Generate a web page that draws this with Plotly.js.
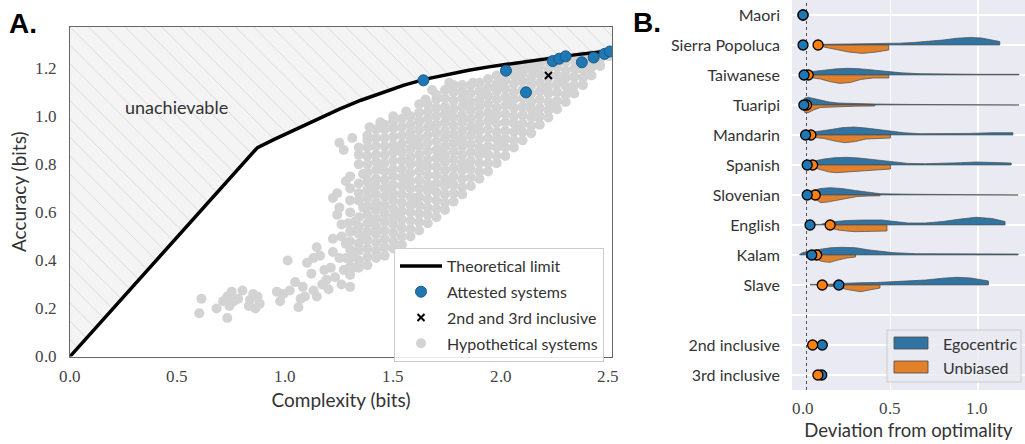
<!DOCTYPE html>
<html><head><meta charset="utf-8">
<script src="https://cdn.plot.ly/plotly-3.0.1.min.js"></script>
<style>html,body{margin:0;padding:0;background:#fff}#chart{width:1025px;height:444px}</style>
</head><body><div id="chart"></div><script>
// ---------- Panel A data ----------
const limitX = [0, 0.87, 0.95, 1.05, 1.15, 1.25, 1.35, 1.45, 1.55, 1.65, 1.75, 1.85, 1.95, 2.05, 2.15, 2.25, 2.35, 2.45, 2.515];
const limitY = [0, 0.87, 0.905, 0.948, 0.99, 1.03, 1.067, 1.10, 1.13, 1.155, 1.175, 1.192, 1.207, 1.22, 1.233, 1.245, 1.257, 1.267, 1.273];
const attestedX = [1.64, 2.023, 2.116, 2.24, 2.27, 2.30, 2.375, 2.43, 2.48, 2.505];
const attestedY = [1.15, 1.19, 1.10, 1.23, 1.24, 1.25, 1.225, 1.245, 1.26, 1.27];
const inclusiveX = [2.22];
const inclusiveY = [1.17];
const complexityTicks = [0, 0.5, 1.0, 1.5, 2.0, 2.5];
const accuracyTicks = [0, 0.2, 0.4, 0.6, 0.8, 1.0, 1.2];
const hypothetical = [
 [0.60,0.18],[0.61,0.24],[0.68,0.20],[0.71,0.23],[0.73,0.16],[0.73,0.25],[0.74,0.21],[0.75,0.27],[0.76,0.23],[0.78,0.24],
 [0.80,0.275],[0.83,0.21],[0.835,0.235],[0.85,0.26],[0.86,0.20],[0.87,0.25],[0.88,0.22],[0.96,0.27],[0.975,0.23],[0.99,0.26],
 [1.01,0.40],[1.02,0.275],[1.045,0.31],[1.06,0.205],[1.07,0.24],[1.08,0.29],[1.09,0.25],[1.10,0.39],[1.12,0.345],[1.13,0.275],
 [1.13,0.41],[1.145,0.25],[1.145,0.455],[1.16,0.42],[1.17,0.30],[1.18,0.36],[1.19,0.32],[1.20,0.28],[1.21,0.37],[1.22,0.435],
 [1.22,0.49],[1.22,0.66],[1.23,0.33],[1.24,0.59],[1.24,0.68],[1.25,0.41],[1.25,0.62],[1.25,0.89],[1.26,0.30],[1.26,0.50],
 [1.26,0.55],[1.27,0.36],[1.27,0.86],[1.28,0.41],[1.28,0.47],[1.28,0.73],[1.29,0.555],[1.30,0.29],[1.31,0.37],[1.31,0.91],
 [1.33,0.525],[1.39,0.955],[1.44,0.975],[1.50,1.0],[1.56,1.02],[1.62,1.05],[1.65,1.07],[1.68,1.11],[1.76,1.14],[1.87,1.14],
 [2.07,1.21],[2.12,1.22],
 [1.30,0.34],[1.30,0.375],[1.30,0.41],[1.30,0.445],[1.30,0.48],[1.30,0.52],[1.30,0.60],[1.30,0.65],[1.30,0.70],[1.30,0.75],
 [1.34,0.37],[1.34,0.40],[1.34,0.44],[1.34,0.47],[1.34,0.51],[1.34,0.54],[1.34,0.58],[1.34,0.65],[1.34,0.68],[1.34,0.72],[1.34,0.80],[1.34,0.84],[1.34,0.87],
 [1.38,0.38],[1.38,0.415],[1.38,0.45],[1.38,0.485],[1.38,0.52],[1.38,0.555],[1.38,0.59],[1.38,0.625],[1.38,0.66],[1.38,0.695],[1.38,0.73],[1.38,0.765],[1.38,0.80],[1.38,0.835],[1.38,0.87],[1.38,0.90],[1.38,0.92],
 [1.42,0.41],[1.42,0.44],[1.42,0.475],[1.42,0.51],[1.42,0.54],[1.42,0.575],[1.42,0.61],[1.42,0.64],[1.42,0.675],[1.42,0.71],[1.42,0.74],[1.42,0.775],[1.42,0.81],[1.42,0.84],[1.42,0.875],[1.42,0.91],[1.42,0.945],
 [1.46,0.42],[1.46,0.455],[1.46,0.49],[1.46,0.525],[1.46,0.56],[1.46,0.595],[1.46,0.63],[1.46,0.665],[1.46,0.70],[1.46,0.735],[1.46,0.77],[1.46,0.805],[1.46,0.84],[1.46,0.875],[1.46,0.91],[1.46,0.945],[1.46,0.965],
 [1.50,0.45],[1.50,0.48],[1.50,0.515],[1.50,0.55],[1.50,0.58],[1.50,0.615],[1.50,0.65],[1.50,0.68],[1.50,0.715],[1.50,0.75],[1.50,0.78],[1.50,0.815],[1.50,0.85],[1.50,0.88],[1.50,0.915],[1.50,0.95],[1.50,0.98],
 [1.54,0.465],[1.54,0.50],[1.54,0.535],[1.54,0.57],[1.54,0.605],[1.54,0.64],[1.54,0.675],[1.54,0.71],[1.54,0.745],[1.54,0.78],[1.54,0.815],[1.54,0.85],[1.54,0.885],[1.54,0.92],[1.54,0.955],[1.54,0.99],
 [1.58,0.50],[1.58,0.53],[1.58,0.565],[1.58,0.60],[1.58,0.63],[1.58,0.665],[1.58,0.70],[1.58,0.73],[1.58,0.765],[1.58,0.80],[1.58,0.83],[1.58,0.865],[1.58,0.90],[1.58,0.93],[1.58,0.965],[1.58,1.0],
 [1.62,0.525],[1.62,0.56],[1.62,0.595],[1.62,0.63],[1.62,0.665],[1.62,0.70],[1.62,0.735],[1.62,0.77],[1.62,0.805],[1.62,0.84],[1.62,0.875],[1.62,0.91],[1.62,0.945],[1.62,0.98],[1.62,1.015],
 [1.66,0.555],[1.66,0.59],[1.66,0.62],[1.66,0.655],[1.66,0.69],[1.66,0.72],[1.66,0.755],[1.66,0.79],[1.66,0.82],[1.66,0.855],[1.66,0.89],[1.66,0.92],[1.66,0.955],[1.66,0.99],[1.66,1.02],[1.66,1.05],
 [1.70,0.58],[1.70,0.615],[1.70,0.65],[1.70,0.685],[1.70,0.72],[1.70,0.755],[1.70,0.79],[1.70,0.825],[1.70,0.86],[1.70,0.895],[1.70,0.93],[1.70,0.965],[1.70,1.0],[1.70,1.035],[1.70,1.07],[1.70,1.09],
 [1.74,0.61],[1.74,0.64],[1.74,0.675],[1.74,0.71],[1.74,0.74],[1.74,0.775],[1.74,0.81],[1.74,0.84],[1.74,0.875],[1.74,0.91],[1.74,0.94],[1.74,0.975],[1.74,1.01],[1.74,1.04],[1.74,1.075],[1.74,1.11],
 [1.78,0.645],[1.78,0.68],[1.78,0.715],[1.78,0.75],[1.78,0.785],[1.78,0.82],[1.78,0.855],[1.78,0.89],[1.78,0.925],[1.78,0.96],[1.78,0.995],[1.78,1.03],[1.78,1.065],[1.78,1.10],[1.78,1.13],
 [1.82,0.675],[1.82,0.705],[1.82,0.74],[1.82,0.775],[1.82,0.805],[1.82,0.84],[1.82,0.875],[1.82,0.905],[1.82,0.94],[1.82,0.975],[1.82,1.005],[1.82,1.04],[1.82,1.075],[1.82,1.105],[1.82,1.13],
 [1.86,0.71],[1.86,0.745],[1.86,0.78],[1.86,0.815],[1.86,0.85],[1.86,0.885],[1.86,0.92],[1.86,0.955],[1.86,0.99],[1.86,1.025],[1.86,1.06],[1.86,1.095],[1.86,1.13],
 [1.90,0.74],[1.90,0.77],[1.90,0.805],[1.90,0.84],[1.90,0.87],[1.90,0.905],[1.90,0.94],[1.90,0.97],[1.90,1.005],[1.90,1.04],[1.90,1.07],[1.90,1.105],[1.90,1.14],
 [1.94,0.77],[1.94,0.805],[1.94,0.84],[1.94,0.875],[1.94,0.91],[1.94,0.945],[1.94,0.98],[1.94,1.015],[1.94,1.05],[1.94,1.085],[1.94,1.12],[1.94,1.155],
 [1.98,0.805],[1.98,0.835],[1.98,0.87],[1.98,0.905],[1.98,0.935],[1.98,0.97],[1.98,1.005],[1.98,1.035],[1.98,1.07],[1.98,1.105],[1.98,1.135],[1.98,1.17],
 [2.02,0.835],[2.02,0.87],[2.02,0.905],[2.02,0.94],[2.02,0.975],[2.02,1.01],[2.02,1.045],[2.02,1.08],[2.02,1.115],[2.02,1.15],[2.02,1.185],
 [2.06,0.87],[2.06,0.90],[2.06,0.935],[2.06,0.97],[2.06,1.0],[2.06,1.035],[2.06,1.07],[2.06,1.10],[2.06,1.135],[2.06,1.17],[2.06,1.20],
 [2.10,0.90],[2.10,0.935],[2.10,0.97],[2.10,1.005],[2.10,1.04],[2.10,1.075],[2.10,1.11],[2.10,1.145],[2.10,1.18],[2.10,1.21],
 [2.14,0.93],[2.14,0.96],[2.14,0.995],[2.14,1.03],[2.14,1.06],[2.14,1.095],[2.14,1.13],[2.14,1.16],[2.14,1.195],[2.14,1.22],
 [2.18,0.965],[2.18,1.0],[2.18,1.035],[2.18,1.07],[2.18,1.105],[2.18,1.14],[2.18,1.175],[2.18,1.21],[2.18,1.225],
 [2.22,0.995],[2.22,1.025],[2.22,1.06],[2.22,1.095],[2.22,1.125],[2.22,1.16],[2.22,1.195],[2.22,1.23],
 [2.26,1.03],[2.26,1.065],[2.26,1.10],[2.26,1.135],[2.26,1.17],[2.26,1.205],[2.26,1.235],
 [2.30,1.06],[2.30,1.09],[2.30,1.125],[2.30,1.16],[2.30,1.19],[2.30,1.225],[2.30,1.24],
 [2.34,1.095],[2.34,1.13],[2.34,1.165],[2.34,1.20],[2.34,1.235],
 [2.38,1.13],[2.38,1.16],[2.38,1.195],[2.38,1.225],[2.38,1.25],
 [2.42,1.17],[2.42,1.205],[2.42,1.235],[2.42,1.255],
 [2.46,1.21],[2.46,1.24],[2.46,1.26],
 [2.50,1.25],[2.50,1.265],
 [1.32,0.56],[1.36,0.62],[1.36,0.76],[1.32,0.43],[1.36,0.50],[1.40,0.56],[1.40,0.70],[1.44,0.62],[1.44,0.80],[1.48,0.70],
 [1.52,0.60],[1.52,0.86],[1.56,0.74],[1.60,0.66],[1.60,0.90],[1.64,0.80],[1.68,0.70],[1.68,0.96],[1.72,0.86],[1.76,0.72],
 [1.76,1.00],[1.80,0.90],[1.84,0.80],[1.84,1.06],[1.88,0.95],[1.92,0.86],[1.92,1.10],[1.96,1.00],[2.00,0.90],[2.00,1.14],
 [2.04,1.05],[2.08,0.96],[2.08,1.17],[2.12,1.08],[2.16,1.00],[2.16,1.19],[2.20,1.12],[2.24,1.05],[2.28,1.15],[2.32,1.11],
 [2.36,1.20],[2.40,1.18],[2.44,1.23]
];

// ---------- Panel B data ----------
const languages = ['Maori','Sierra Popoluca','Taiwanese','Tuaripi','Mandarin','Spanish','Slovenian','English','Kalam','Slave'];
const inclusiveRows = ['2nd inclusive','3rd inclusive'];
const deviationTicks = [0, 0.5, 1.0];
const egoLang = [0.0, 0.0, 0.006, 0.005, 0.015, 0.024, 0.024, 0.04, 0.05, 0.205];
const uniLang = [0.0, 0.086, 0.03, 0.02, 0.045, 0.055, 0.07, 0.155, 0.078, 0.11];
const egoIncl = [0.11, 0.107];
const uniIncl = [0.055, 0.085];
// violin half-profiles: deviation positions and density (arbitrary units)
const egoProfileX = [
 [],
 [0.09,0.2,0.35,0.48,0.55,0.63,0.72,0.80,0.88,0.955,1.02,1.08,1.125],
 [0.0,0.03,0.06,0.12,0.18,0.25,0.32,0.40,0.48,0.56,0.67,0.8,1.0,1.235],
 [0.0,0.01,0.03,0.06,0.1,0.15,0.2,0.3,0.41,0.6,0.9,1.235],
 [0.02,0.06,0.1,0.16,0.22,0.29,0.36,0.43,0.5,0.58,0.67,0.8,0.95,1.08,1.2],
 [0.02,0.06,0.12,0.18,0.25,0.32,0.4,0.51,0.6,0.7,0.8,0.9,0.99,1.08,1.19],
 [0.02,0.06,0.1,0.155,0.22,0.3,0.37,0.44,0.6,0.9,1.23],
 [0.04,0.1,0.155,0.25,0.35,0.45,0.5,0.6,0.7,0.8,0.9,0.99,1.08,1.155],
 [-0.02,0.0,0.05,0.1,0.16,0.22,0.3,0.38,0.45,0.52,0.65,0.9,1.23],
 [0.04,0.1,0.15,0.205,0.26,0.33,0.42,0.5,0.6,0.7,0.8,0.88,0.96,1.06]
];
const egoProfileD = [
 [],
 [0.6,0.8,1,1.3,1.8,2.5,3.5,5,6.8,7.6,7,5,3.5],
 [1.5,3,3.6,5,6,6.7,6.3,5,3.6,2.2,1.3,0.9,0.7,0.7],
 [4,7,7.7,6.5,4.5,3,2,1.3,1,0.6,0.5,0.5],
 [2,3,3.5,5.5,7.3,8,7,5.5,3.5,2.2,1.3,1.2,1.6,2.3,2.3],
 [2.5,4,6,7.3,7.7,7,5.5,3,1.6,1.3,1.5,2.3,3,2.5,2],
 [3,5,6.5,7.3,6.5,4.5,2.8,1.3,0.8,0.7,0.7],
 [0.6,0.6,3,4.5,5,5,4,2,2,3.5,6,7.7,6.5,3.5],
 [0.6,2.5,4.5,6,7.3,7.7,7.3,5,3.5,2.3,1.3,1,1],
 [0.6,0.6,0.6,1.5,2,2.3,2.5,3,3.8,5,6.8,7.7,7,4]
];
const uniProfileX = [
 [],
 [0.09,0.13,0.19,0.26,0.34,0.42,0.49],
 [0.03,0.06,0.1,0.15,0.21,0.27,0.33,0.40,0.49],
 [0.0,0.01,0.03,0.06,0.1,0.2,0.3,0.41],
 [0.045,0.08,0.12,0.18,0.24,0.3,0.36,0.43,0.5],
 [0.055,0.1,0.15,0.19,0.25,0.32,0.4,0.5],
 [0.07,0.09,0.1,0.14,0.2,0.26,0.31,0.38,0.44],
 [0.155,0.2,0.25,0.3,0.35,0.42,0.48],
 [0.078,0.1,0.13,0.155,0.2,0.25,0.3],
 [0.11,0.15,0.2,0.25,0.3,0.33,0.38,0.44]
];
const uniProfileD = [
 [],
 [1,2.5,4.7,7,8.4,7,5],
 [1.5,3,4,6.5,8.4,7.5,4.5,3,3],
 [4,7.5,7.7,5,2.5,1.5,1.2,1],
 [2,2.5,3.5,6,7.7,6.5,4,3.5,3],
 [2.5,4.5,7,7.7,7,6,5,4],
 [4,6.5,7.7,7,5,3,1.5,1,0.8],
 [3,5,6,6.7,6.5,6.3,6],
 [4,6,7,7.3,5,3,2],
 [0.8,1,2,4.5,6.3,6.7,5,3]
];
const optimumLine = 0.02;

// ---------- styling ----------
const W = 1025, H = 444;
const px = v => v / W, py = v => 1 - v / H;
const BLUE = '#1f77b4', ORANGE = '#ff7f0e', VBLUE = '#3274a1', VORANGE = '#e1812c';
const sans = 'Lato';
const serifFont = {family: 'TickSerif, Liberation Serif, DejaVu Serif, serif', size: 16.5, color: '#444'};
const densityScale = 1 / 30;
const xRangeA = [0, 2.515], yRangeA = [0, 1.372];
const yRangeB = [12.5, -0.5];

const traces = [];
traces.push({
  type: 'scatter', mode: 'none', xaxis: 'x', yaxis: 'y',
  x: [...limitX, xRangeA[1], xRangeA[0]],
  y: [...limitY, yRangeA[1], yRangeA[1]],
  fill: 'toself', fillcolor: '#f4f4f4',
  fillpattern: {shape: '\\', fgcolor: '#cdcdcd', bgcolor: '#f4f4f4', size: 13, solidity: 0.05},
  showlegend: false, hoverinfo: 'skip'
});
traces.push({
  type: 'scatter', mode: 'markers', xaxis: 'x', yaxis: 'y', name: 'Hypothetical systems',
  x: hypothetical.map(p => p[0]), y: hypothetical.map(p => p[1]),
  marker: {color: '#d3d3d3', size: 10, line: {width: 0}},
  legendrank: 4, legendgroup: 'g4'
});
traces.push({
  type: 'scatter', mode: 'lines', xaxis: 'x', yaxis: 'y', name: 'Theoretical limit',
  x: limitX, y: limitY, line: {color: '#000', width: 3.5},
  legendrank: 1, legendgroup: 'g1'
});
traces.push({
  type: 'scatter', mode: 'markers', xaxis: 'x', yaxis: 'y', name: 'Attested systems',
  x: attestedX, y: attestedY,
  marker: {color: BLUE, size: 11, line: {color: '#1b5a88', width: 1}},
  legendrank: 2, legendgroup: 'g2'
});
traces.push({
  type: 'scatter', mode: 'markers', xaxis: 'x', yaxis: 'y', name: '2nd and 3rd inclusive',
  x: inclusiveX, y: inclusiveY,
  marker: {color: '#000', size: 7, symbol: 'x-thin', line: {color: '#000', width: 2}},
  legendrank: 3, legendgroup: 'g3'
});

const slotOf = i => i;
const inclSlot = j => languages.length + 1 + j;
traces.push({
  type: 'scatter', mode: 'lines', xaxis: 'x2', yaxis: 'y2',
  x: [optimumLine, optimumLine], y: yRangeB,
  line: {color: '#555', width: 1, dash: 'dot'}, showlegend: false, hoverinfo: 'skip'
});
function halfViolin(xs, ds, slot, sign, color) {
  const ys = ds.map(d => slot + sign * d * densityScale);
  return {
    type: 'scatter', mode: 'lines', xaxis: 'x2', yaxis: 'y2',
    x: [...xs, ...xs.slice().reverse()],
    y: [...ys, ...xs.map(() => slot)],
    fill: 'toself', fillcolor: color,
    line: {color: '#4a4a4a', width: 0.7},
    showlegend: false, hoverinfo: 'skip'
  };
}
languages.forEach((lang, i) => {
  if (egoProfileX[i].length) traces.push(halfViolin(egoProfileX[i], egoProfileD[i], slotOf(i), -1, VBLUE));
  if (uniProfileX[i].length) traces.push(halfViolin(uniProfileX[i], uniProfileD[i], slotOf(i), 1, VORANGE));
});
const mk = (c) => ({color: c, size: 10, line: {color: '#000', width: 1.3}});
traces.push({type: 'scatter', mode: 'markers', xaxis: 'x2', yaxis: 'y2', x: uniLang, y: languages.map((_, i) => slotOf(i)), marker: mk(ORANGE), showlegend: false});
traces.push({type: 'scatter', mode: 'markers', xaxis: 'x2', yaxis: 'y2', x: egoLang, y: languages.map((_, i) => slotOf(i)), marker: mk(BLUE), showlegend: false});
traces.push({type: 'scatter', mode: 'markers', xaxis: 'x2', yaxis: 'y2', x: egoIncl, y: inclusiveRows.map((_, j) => inclSlot(j)), marker: mk(BLUE), showlegend: false});
traces.push({type: 'scatter', mode: 'markers', xaxis: 'x2', yaxis: 'y2', x: uniIncl, y: inclusiveRows.map((_, j) => inclSlot(j)), marker: mk(ORANGE), showlegend: false});

const allSlots = [], allLabels = [];
languages.forEach((l, i) => { allSlots.push(slotOf(i)); allLabels.push(l); });
allSlots.push(languages.length); allLabels.push('');
inclusiveRows.forEach((l, j) => { allSlots.push(inclSlot(j)); allLabels.push(l); });

// numeric tick labels drawn in a serif face at the axes' tick values
const tickAnn = [];
complexityTicks.forEach(v => tickAnn.push({text: v.toFixed(1), xref: 'x', yref: 'paper', x: v, y: py(376),
  xanchor: 'center', yanchor: 'middle', showarrow: false, font: serifFont}));
accuracyTicks.forEach(v => tickAnn.push({text: v.toFixed(1), xref: 'paper', yref: 'y', x: px(59), y: v,
  xanchor: 'right', yanchor: 'middle', showarrow: false, font: serifFont}));
deviationTicks.forEach(v => tickAnn.push({text: v.toFixed(1), xref: 'x2', yref: 'paper', x: v, y: py(408),
  xanchor: 'center', yanchor: 'middle', showarrow: false, font: serifFont}));

const layout = {
  width: W, height: H, margin: {l: 0, r: 0, t: 0, b: 0},
  paper_bgcolor: '#fff', plot_bgcolor: 'rgba(0,0,0,0)',
  showlegend: true,
  legend: {
    x: px(394), y: py(248), xanchor: 'left', yanchor: 'top',
    bgcolor: 'rgba(255,255,255,0.85)', bordercolor: '#cccccc', borderwidth: 1,
    font: {family: sans, size: 16, color: '#333'},
    traceorder: 'grouped', tracegroupgap: 2, itemsizing: 'trace', itemwidth: 42
  },
  xaxis: {
    domain: [px(70), px(612)], range: xRangeA, anchor: 'y',
    showline: true, mirror: true, linecolor: '#666', linewidth: 1.2,
    showgrid: false, zeroline: false,
    tickmode: 'array', tickvals: complexityTicks, showticklabels: false, ticks: '',
    title: {text: 'Complexity (bits)', font: {family: sans, size: 19, color: '#333'}, standoff: 37}
  },
  yaxis: {
    domain: [py(356.5), py(27)], range: yRangeA, anchor: 'x',
    showline: true, mirror: true, linecolor: '#666', linewidth: 1.2,
    showgrid: false, zeroline: false,
    tickmode: 'array', tickvals: accuracyTicks, showticklabels: false, ticks: '',
    title: {text: 'Accuracy (bits)', font: {family: sans, size: 19, color: '#333'}, standoff: 37}
  },
  xaxis2: {
    domain: [px(792), 1], range: [-0.063, 1.269], anchor: 'y2',
    showline: false, showgrid: false, zeroline: false,
    tickmode: 'array', tickvals: deviationTicks, showticklabels: false, ticks: '',
    minor: {tickvals: [0.5, 1.0], showgrid: true, gridcolor: '#ffffff', gridwidth: 1.2, ticks: ''},
    title: {text: 'Deviation from optimality', font: {family: sans, size: 18.5, color: '#333'}, standoff: 34}
  },
  yaxis2: {
    domain: [py(390), 1], range: yRangeB, anchor: 'x2',
    showline: false, zeroline: false,
    tickmode: 'array', tickvals: allSlots, ticktext: allLabels,
    showgrid: true, gridcolor: '#ffffff', gridwidth: 1.2,
    ticks: '', ticklabelstandoff: 11,
    tickfont: {family: sans, size: 16, color: '#333'}
  },
  shapes: [
    {type: 'rect', xref: 'x2 domain', yref: 'y2 domain', x0: 0, x1: 1, y0: 0, y1: 1,
     fillcolor: '#eaeaf2', line: {width: 0}, layer: 'below'},
    {type: 'rect', xref: 'paper', yref: 'paper', x0: px(887), x1: px(1021), y0: py(382), y1: py(330),
     fillcolor: 'rgba(234,234,242,0.85)', line: {color: '#cccccc', width: 1}, layer: 'above'},
    {type: 'rect', xref: 'paper', yref: 'paper', x0: px(894), x1: px(928), y0: py(349), y1: py(337),
     fillcolor: VBLUE, line: {color: '#4a4a4a', width: 0.8}, layer: 'above'},
    {type: 'rect', xref: 'paper', yref: 'paper', x0: px(894), x1: px(928), y0: py(373), y1: py(361),
     fillcolor: VORANGE, line: {color: '#4a4a4a', width: 0.8}, layer: 'above'}
  ],
  annotations: [
    ...tickAnn,
    {text: '<b>A.</b>', xref: 'paper', yref: 'paper', x: px(7), y: py(23), xanchor: 'left', yanchor: 'middle',
     showarrow: false, font: {family: 'Liberation Sans', size: 28, color: '#000'}},
    {text: '<b>B.</b>', xref: 'paper', yref: 'paper', x: px(631), y: py(22), xanchor: 'left', yanchor: 'middle',
     showarrow: false, font: {family: 'Liberation Sans', size: 28, color: '#000'}},
    {text: 'unachievable', xref: 'x', yref: 'y', x: 0.494, y: 1.038, showarrow: false,
     font: {family: sans, size: 18, color: '#333'}},
    {text: 'Egocentric', xref: 'paper', yref: 'paper', x: px(941), y: py(343), xanchor: 'left', yanchor: 'middle',
     showarrow: false, font: {family: sans, size: 16, color: '#333'}},
    {text: 'Unbiased', xref: 'paper', yref: 'paper', x: px(941), y: py(367), xanchor: 'left', yanchor: 'middle',
     showarrow: false, font: {family: sans, size: 16, color: '#333'}}
  ]
};

Plotly.newPlot('chart', traces, layout, {staticPlot: true, displayModeBar: false});
// make sure the local serif face is loaded, then redraw so the tick labels use it
try {
  const ff = new FontFace('TickSerif', 'local("Liberation Serif"), local("LiberationSerif-Regular"), local("DejaVu Serif")');
  document.fonts.add(ff);
  ff.load().then(() => Plotly.redraw('chart')).catch(() => {});
} catch (e) {}
</script></body></html>
